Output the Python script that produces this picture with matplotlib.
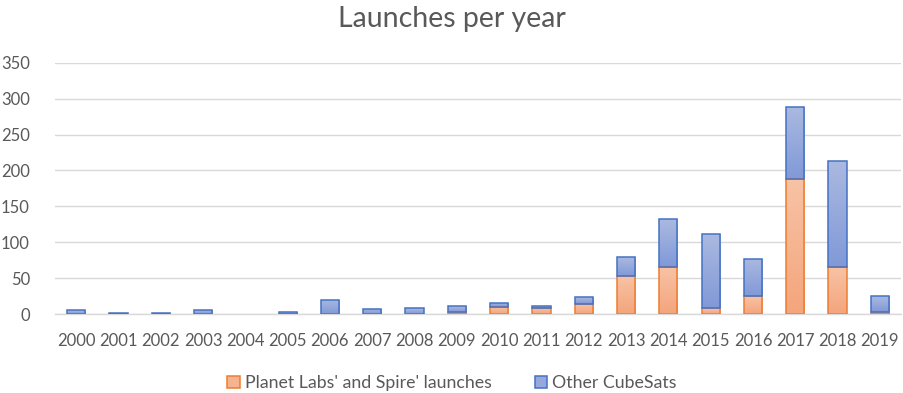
import numpy as np
import matplotlib
matplotlib.use("Agg")
import matplotlib.pyplot as plt
from matplotlib.colors import LinearSegmentedColormap
from matplotlib.patches import Patch

years = ["2000", "2001", "2002", "2003", "2004", "2005", "2006", "2007", "2008", "2009",
         "2010", "2011", "2012", "2013", "2014", "2015", "2016", "2017", "2018", "2019"]
planet_spire = [0, 0, 0, 0, 0, 0, 0, 0, 0, 3, 10, 9, 14, 53, 66, 8, 25, 188, 66, 3]
other_cubesats = [5, 1, 1, 6, 0, 3, 20, 7, 8, 8, 6, 2, 9, 26, 66, 103, 52, 100, 147, 22]
yticks = [0, 50, 100, 150, 200, 250, 300, 350]

plt.rcParams["font.family"] = ["Lato", "DejaVu Sans"]
text_color = "#595959"

fig = plt.figure(figsize=(9.04, 3.93), dpi=100)
ax = fig.add_axes([0.0608, 0.201, 0.9359, 0.6394])

x = np.arange(len(years))
width = 0.43

orange_edge = "#ED7D31"
blue_edge = "#4472C4"
orange_cmap = LinearSegmentedColormap.from_list("o", ["#F4A57C", "#F8C3A6"])
blue_cmap = LinearSegmentedColormap.from_list("b", ["#8199D8", "#AAB9E0"])

b1 = ax.bar(x, planet_spire, width, color="none", edgecolor=orange_edge, linewidth=1.1, zorder=3)
b2 = ax.bar(x, other_cubesats, width, bottom=planet_spire, color="none",
            edgecolor=blue_edge, linewidth=1.1, zorder=3)

# vertical gradient fill clipped to each bar; empty segments draw nothing
grad = np.linspace(0, 1, 256).reshape(-1, 1)
for bars, cmap in ((b1, orange_cmap), (b2, blue_cmap)):
    for rect in bars:
        h = rect.get_height()
        if h <= 0:
            rect.set_linewidth(0)
            continue
        x0 = rect.get_x()
        y0 = rect.get_y()
        im = ax.imshow(grad, cmap=cmap, origin="lower", aspect="auto",
                       extent=(x0, x0 + rect.get_width(), y0, y0 + h), zorder=2)
        im.set_clip_path(rect)

ax.set_xlim(-0.5, len(years) - 0.5)
ax.set_ylim(0, 350)
ax.set_yticks(yticks)
ax.set_xticks(x)
ax.set_xticklabels(years)
ax.yaxis.grid(True, color="#D9D9D9", linewidth=1.0, zorder=0)
ax.set_axisbelow(True)
for s in ("top", "right", "left"):
    ax.spines[s].set_visible(False)
ax.spines["bottom"].set_color("#D9D9D9")
ax.spines["bottom"].set_linewidth(1.0)
ax.tick_params(axis="both", length=0, labelsize=12, colors=text_color)
ax.tick_params(axis="x", pad=14)
ax.tick_params(axis="y", pad=18)

fig.text(0.5, 0.952, "Launches per year", ha="center", va="center",
         fontsize=20.5, color=text_color)

handles = [Patch(facecolor="#F6B38F", edgecolor=orange_edge, linewidth=1.1,
                 label="Planet Labs' and Spire' launches"),
           Patch(facecolor="#97A9DC", edgecolor=blue_edge, linewidth=1.1,
                 label="Other CubeSats")]
leg = fig.legend(handles=handles, loc="center", bbox_to_anchor=(0.5, 0.025), ncol=2,
                 frameon=False, fontsize=12.8, handlelength=0.7, handleheight=0.7,
                 handletextpad=0.3, columnspacing=2.4)
for t in leg.get_texts():
    t.set_color(text_color)

fig.savefig("out.png", dpi=100)
